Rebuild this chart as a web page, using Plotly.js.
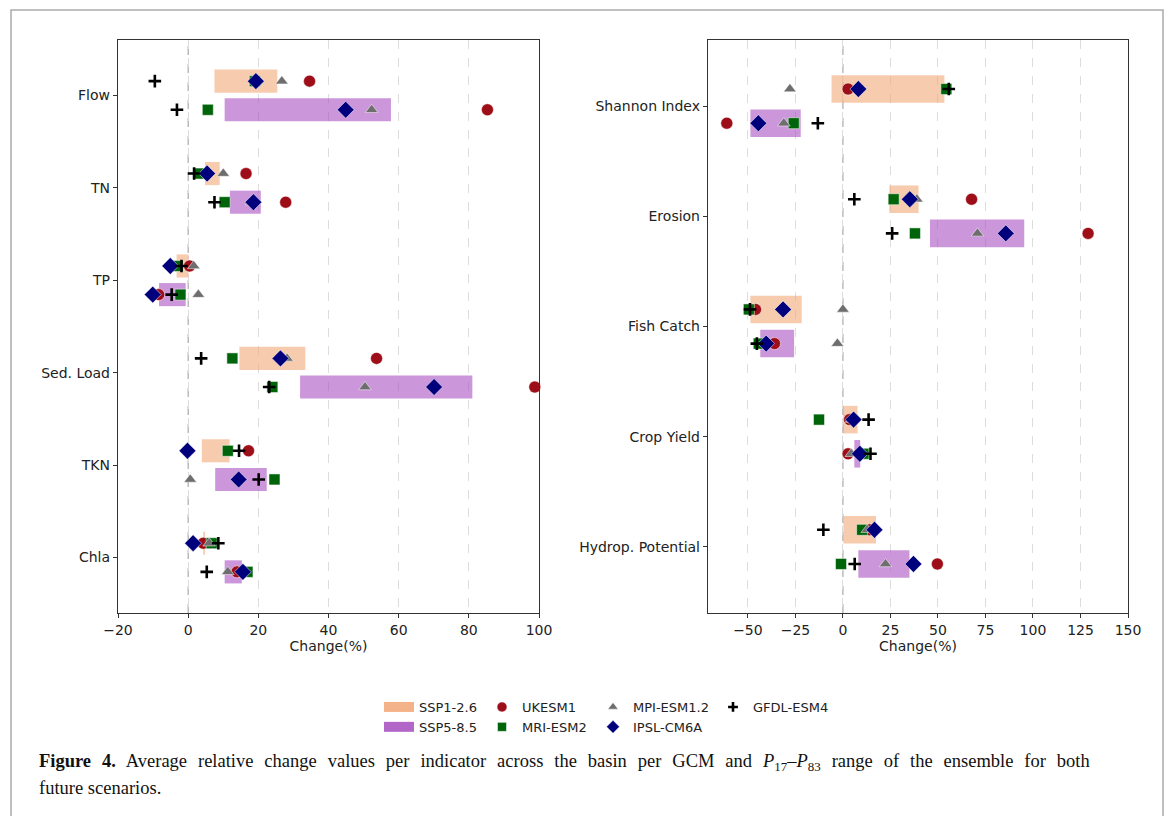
<!DOCTYPE html>
<html>
<head>
<meta charset="utf-8">
<script src="https://cdn.plot.ly/plotly-3.0.1.min.js"></script>
<style>html,body{margin:0;padding:0;background:#fff;}#chart{width:1168px;height:816px;}</style>
</head>
<body>
<div id="chart"></div>
<script>
// ---------- data: left panel ----------
const leftCats = ['Flow', 'TN', 'TP', 'Sed. Load', 'TKN', 'Chla'];
const leftSsp1Low  = [7.5, 4.8, -3.3, 14.6, 3.9, 4.3];
const leftSsp1High = [25.4, 9.0, 0.1, 33.4, 11.8, 4.8];
const leftSsp5Low  = [10.4, 11.9, -8.3, 31.9, 7.7, 10.4];
const leftSsp5High = [57.8, 20.7, -0.7, 81.0, 22.4, 15.3];
const leftUkesmSsp1 = [34.6, 16.5, 0.4, 53.7, 17.2, 4.3];
const leftUkesmSsp5 = [85.3, 27.8, -8.4, 98.8, 14.4, 13.9];
const leftMriSsp1   = [19.0, 2.9, -3.0, 12.6, 11.3, 6.7];
const leftMriSsp5   = [5.6, 10.4, -2.2, 24.0, 24.6, 16.9];
const leftMpiSsp1   = [26.7, 10.0, 1.6, 28.2, 0.0, 6.0];
const leftMpiSsp5   = [52.3, 18.1, 2.9, 50.4, 0.6, 11.3];
const leftIpslSsp1  = [19.3, 5.4, -5.1, 26.3, -0.2, 1.4];
const leftIpslSsp5  = [44.9, 18.6, -10.1, 70.1, 14.4, 15.6];
const leftGfdlSsp1  = [-9.5, 1.7, -1.9, 3.7, 14.5, 8.6];
const leftGfdlSsp5  = [-3.2, 7.5, -4.7, 23.1, 20.1, 5.3];

// ---------- data: right panel ----------
const rightCats = ['Shannon Index', 'Erosion', 'Fish Catch', 'Crop Yield', 'Hydrop. Potential'];
const rightSsp1Low  = [-6.0, 24.4, -48.7, 0.0, 0.2];
const rightSsp1High = [53.4, 39.8, -21.7, 7.7, 17.4];
const rightSsp5Low  = [-48.7, 45.8, -43.5, 6.0, 8.1];
const rightSsp5High = [-22.2, 95.4, -25.7, 9.1, 35.0];
const rightUkesmSsp1 = [2.7, 67.7, -46.0, 3.5, 14.0];
const rightUkesmSsp5 = [-61.1, 129.0, -36.0, 2.7, 49.7];
const rightMriSsp1   = [54.4, 26.7, -49.5, -12.6, 10.1];
const rightMriSsp5   = [-25.9, 37.9, -44.3, 10.8, -1.0];
const rightMpiSsp1   = [-27.9, 38.9, 0.0, 4.5, 12.8];
const rightMpiSsp5   = [-31.1, 70.8, -2.9, 4.4, 22.4];
const rightIpslSsp1  = [8.1, 35.2, -31.5, 5.6, 16.6];
const rightIpslSsp5  = [-44.5, 85.7, -40.4, 8.9, 37.1];
const rightGfdlSsp1  = [55.7, 6.0, -48.9, 13.5, -10.3];
const rightGfdlSsp5  = [-13.2, 25.9, -45.3, 14.5, 6.2];

const scenarioNames = ['SSP1-2.6', 'SSP5-8.5'];
const gcmNames = ['UKESM1', 'MRI-ESM2', 'MPI-ESM1.2', 'IPSL-CM6A', 'GFDL-ESM4'];
const leftTicks = [-20, 0, 20, 40, 60, 80, 100];
const rightTicks = [-50, -25, 0, 25, 50, 75, 100, 125, 150];

// ---------- styles ----------
const OFF = 0.155, BARW = 0.25;
const ssp1Color = 'rgba(242,170,120,0.6)';
const ssp5Color = 'rgba(170,80,195,0.6)';
const gcmStyles = [
  {symbol: 'circle', color: '#9e0e18', size: 12, line: {color: '#ffffff', width: 0.5}},
  {symbol: 'square', color: '#00650a', size: 11, line: {color: '#ffffff', width: 0.5}},
  {symbol: 'triangle-up', color: '#6e6e6e', size: 11, line: {color: '#ffffff', width: 0.5}},
  {symbol: 'diamond', color: '#00007c', size: 13, line: {color: '#ffffff', width: 0.5}},
  {symbol: 'cross-thin', color: '#000000', size: 9, line: {color: '#000000', width: 2.6}}
];
const legendOf = ['legend2', 'legend2', 'legend3', 'legend3', 'legend4'];

const traces = [];
function addPanel(cats, lo1, hi1, lo5, hi5, gcm1, gcm5, xa, ya) {
  const idx = cats.map((_, i) => i);
  const y1 = idx.map(i => i - OFF), y5 = idx.map(i => i + OFF);
  traces.push({type: 'bar', orientation: 'h', y: y1, base: lo1, x: lo1.map((v, i) => hi1[i] - v),
    width: BARW, marker: {color: ssp1Color, line: {width: 0}}, xaxis: xa, yaxis: ya, showlegend: false, hoverinfo: 'skip'});
  traces.push({type: 'bar', orientation: 'h', y: y5, base: lo5, x: lo5.map((v, i) => hi5[i] - v),
    width: BARW, marker: {color: ssp5Color, line: {width: 0}}, xaxis: xa, yaxis: ya, showlegend: false, hoverinfo: 'skip'});
  gcm1.forEach((vals, g) => {
    const s = gcmStyles[g];
    const yy = y1.concat([null]).concat(y5);
    const xx = vals.concat([null]).concat(gcm5[g]);
    traces.push({type: 'scatter', mode: 'markers', x: xx, y: yy, xaxis: xa, yaxis: ya,
      marker: {symbol: s.symbol, color: s.color, size: s.size, line: s.line}, showlegend: false, cliponaxis: false});
  });
}
addPanel(leftCats, leftSsp1Low, leftSsp1High, leftSsp5Low, leftSsp5High,
  [leftUkesmSsp1, leftMriSsp1, leftMpiSsp1, leftIpslSsp1, leftGfdlSsp1],
  [leftUkesmSsp5, leftMriSsp5, leftMpiSsp5, leftIpslSsp5, leftGfdlSsp5], 'x', 'y');
addPanel(rightCats, rightSsp1Low, rightSsp1High, rightSsp5Low, rightSsp5High,
  [rightUkesmSsp1, rightMriSsp1, rightMpiSsp1, rightIpslSsp1, rightGfdlSsp1],
  [rightUkesmSsp5, rightMriSsp5, rightMpiSsp5, rightIpslSsp5, rightGfdlSsp5], 'x2', 'y2');

// legend entries
traces.push({type: 'scatter', mode: 'lines', x: [null], y: [null], name: scenarioNames[0], legend: 'legend',
  line: {color: 'rgba(242,165,115,0.85)', width: 10}});
traces.push({type: 'scatter', mode: 'lines', x: [null], y: [null], name: scenarioNames[1], legend: 'legend',
  line: {color: 'rgba(165,75,190,0.85)', width: 10}});
gcmNames.forEach((n, g) => {
  const s = gcmStyles[g];
  traces.push({type: 'scatter', mode: 'markers', x: [null], y: [null], name: n, legend: legendOf[g],
    marker: {symbol: s.symbol, color: s.color, size: Math.round(s.size * 0.8), line: s.line}});
});

const W = 1168, H = 816;
const px = v => v / W, py = v => 1 - v / H;
const tickFont = {family: 'DejaVu Sans', size: 14, color: '#222'};
function xAxis(domain, range, ticks, anchor) {
  return {domain: domain, range: range, tickvals: ticks, ticktext: ticks.map(t => (t < 0 ? '\u2212' + Math.abs(t) : String(t))),
    showline: true, mirror: true, linecolor: '#333', linewidth: 1.2, ticks: 'outside', ticklen: 4, tickcolor: '#333',
    showgrid: true, gridcolor: '#dddddd', griddash: 'dash', gridwidth: 1, zeroline: false, tickfont: tickFont,
    title: {text: 'Change(%)', font: {family: 'DejaVu Sans', size: 14, color: '#222'}, standoff: 3},
    anchor: anchor, automargin: false, fixedrange: true};
}
function yAxis(domain, cats, anchor) {
  return {domain: domain, range: [cats.length - 0.4, -0.6], tickvals: cats.map((_, i) => i), ticktext: cats,
    showline: true, mirror: true, linecolor: '#333', linewidth: 1.2, ticks: 'outside', ticklen: 4, tickcolor: '#333',
    showgrid: false, zeroline: false, tickfont: tickFont, anchor: anchor, automargin: false, fixedrange: true};
}
const yDom = [py(613), py(40)];
const legendBase = {orientation: 'v', yanchor: 'top', xanchor: 'left', y: py(692), bgcolor: 'rgba(0,0,0,0)',
  font: {family: 'DejaVu Sans', size: 13, color: '#222'}, tracegroupgap: 0, itemwidth: 30};

const layout = {
  width: W, height: H, margin: {l: 0, r: 0, t: 0, b: 0}, paper_bgcolor: '#fff', plot_bgcolor: '#fff',
  barmode: 'overlay', showlegend: true,
  xaxis: xAxis([px(118), px(539)], [-20, 100], leftTicks, 'y'),
  yaxis: yAxis(yDom, leftCats, 'x'),
  xaxis2: xAxis([px(708), px(1128)], [-71, 150], rightTicks, 'y2'),
  yaxis2: yAxis(yDom, rightCats, 'x2'),
  legend:  Object.assign({}, legendBase, {x: px(379)}),
  legend2: Object.assign({}, legendBase, {x: px(482)}),
  legend3: Object.assign({}, legendBase, {x: px(593)}),
  legend4: Object.assign({}, legendBase, {x: px(713)}),
  shapes: [
    {type: 'line', xref: 'x', yref: 'y domain', x0: 0, x1: 0, y0: 0, y1: 1, line: {color: '#999', width: 1, dash: 'dash'}, layer: 'below'},
    {type: 'line', xref: 'x2', yref: 'y2 domain', x0: 0, x1: 0, y0: 0, y1: 1, line: {color: '#999', width: 1, dash: 'dash'}, layer: 'below'},
    {type: 'rect', xref: 'paper', yref: 'paper', x0: px(11), x1: px(1163), y0: -0.05, y1: py(10), line: {color: '#aaaaaa', width: 1.5}}
  ],
  annotations: [
    {xref: 'paper', yref: 'paper', x: px(37), y: py(762), xanchor: 'left', yanchor: 'middle', showarrow: false, align: 'left',
      font: {family: 'Liberation Serif', size: 18.5, color: '#111'},
      text: '<span style="word-spacing:6.3px"><b>Figure 4.</b> Average relative change values per indicator across the basin per GCM and <i>P</i><sub>17</sub>\u2013<i>P</i><sub>83</sub> range of the ensemble for both</span>'},
    {xref: 'paper', yref: 'paper', x: px(37), y: py(788), xanchor: 'left', yanchor: 'middle', showarrow: false, align: 'left',
      font: {family: 'Liberation Serif', size: 18.5, color: '#111'}, text: 'future scenarios.'}
  ]
};
Plotly.newPlot('chart', traces, layout, {staticPlot: true, displayModeBar: false});
</script>
</body>
</html>
